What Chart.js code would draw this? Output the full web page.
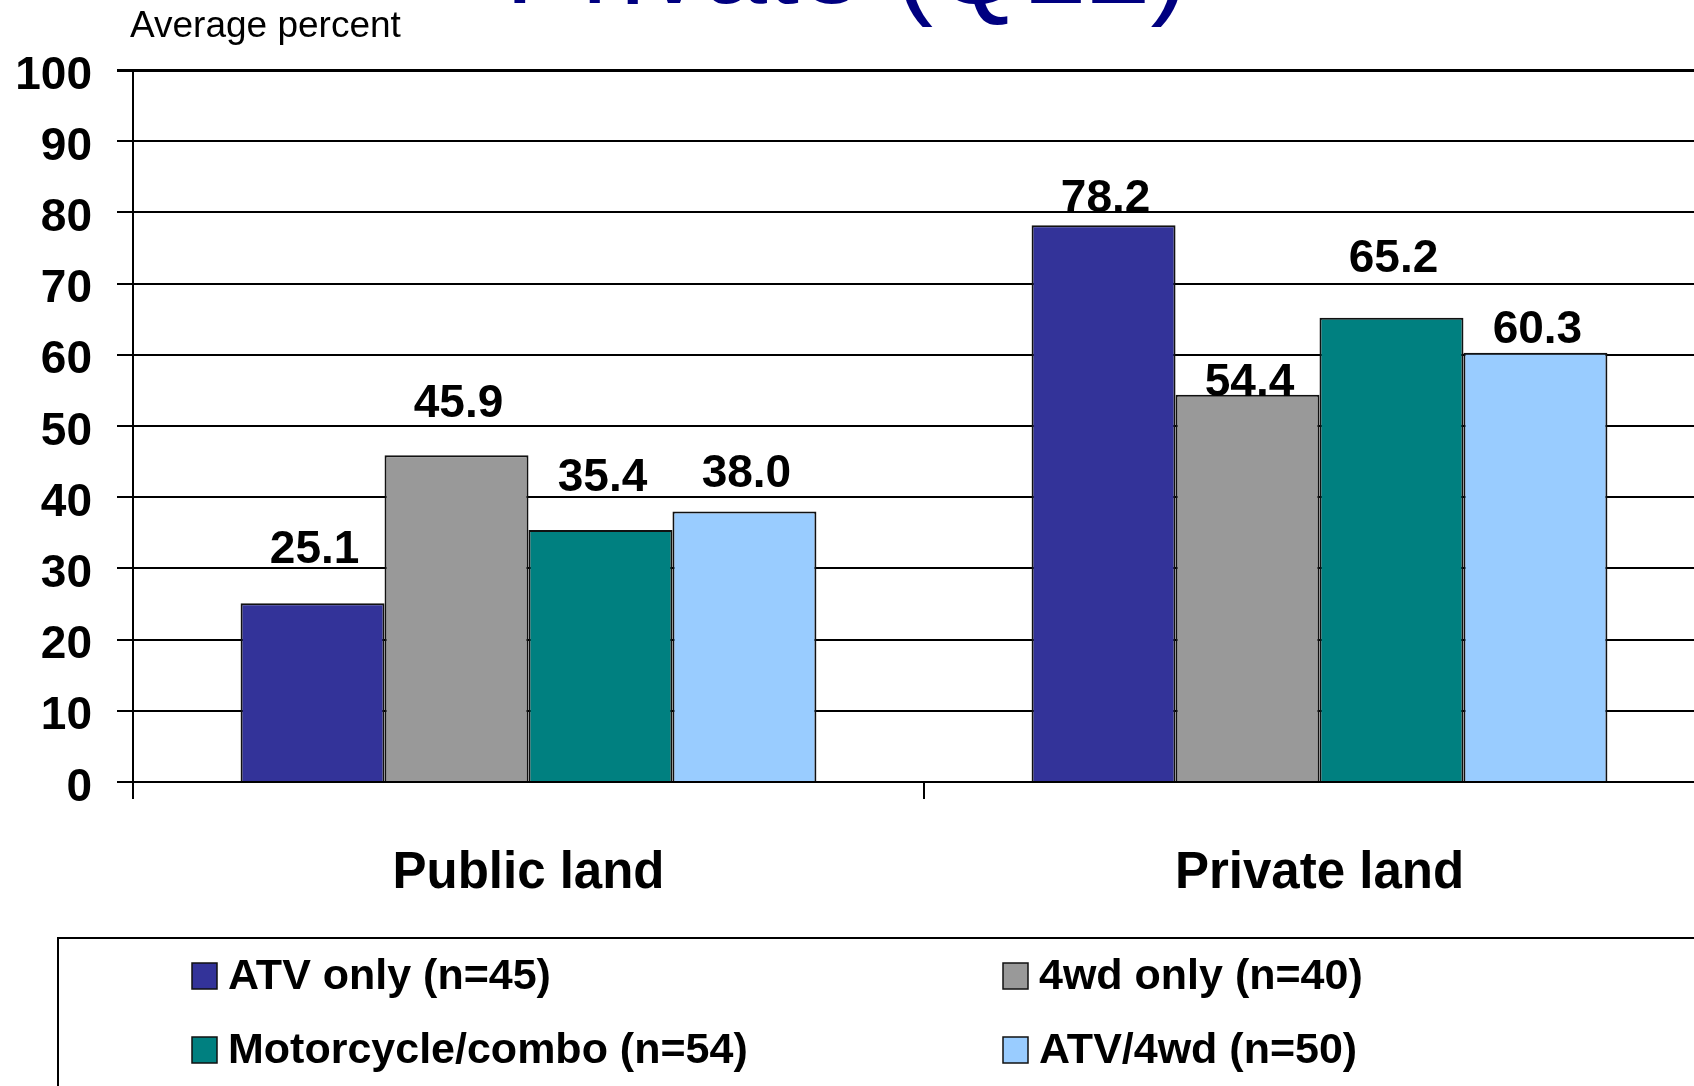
<!DOCTYPE html>
<html>
<head>
<meta charset="utf-8">
<script src="https://cdn.jsdelivr.net/npm/chart.js@4"></script>
<style>
  html, body { margin: 0; padding: 0; background: #fff; overflow: hidden; }
  #wrap { width: 1720px; height: 1086px; }
</style>
</head>
<body>
<div id="wrap"><canvas id="land-canvas" width="1720" height="1086"></canvas></div>
<script>
const categories = ['Public land', 'Private land'];
const seriesNames = ['ATV only (n=45)', '4wd only (n=40)', 'Motorcycle/combo (n=54)', 'ATV/4wd (n=50)'];
const atvOnly = [25.1, 78.2];
const fourWdOnly = [45.9, 54.4];
const motorcycleCombo = [35.4, 65.2];
const atvFourWd = [38.0, 60.3];
const yMin = 0, yMax = 100, yStep = 10;

const colors = ['#333399', '#999999', '#008080', '#99CCFF'];
// how far each value label sits above its bar (px), as placed in the original
const labelLift = [[57, 30], [55, 15], [55, 62], [41, 26]];
const FONT = "'Liberation Sans', Arial, Helvetica, sans-serif";

const series = [atvOnly, fourWdOnly, motorcycleCombo, atvFourWd];

const textPlugin = {
  id: 'texts',
  afterDatasetsDraw(chart){
    const ctx = chart.ctx;
    ctx.save();
    ctx.fillStyle = '#000';
    ctx.font = `bold 46px ${FONT}`;
    ctx.textAlign = 'center';
    ctx.textBaseline = 'alphabetic';
    chart.data.datasets.forEach((ds, i) => {
      chart.getDatasetMeta(i).data.forEach((bar, j) => {
        const y = bar.y - labelLift[i][j] + 16.5;
        ctx.fillText(ds.data[j].toFixed(1), bar.x + 2, y);
      });
    });
    ctx.restore();
  },
  afterDraw(chart){
    const ctx = chart.ctx;
    ctx.save();
    // title, mostly cut off at the top of the picture
    ctx.fillStyle = '#000080';
    ctx.font = `115px ${FONT}`;
    ctx.textAlign = 'left';
    ctx.textBaseline = 'alphabetic';
    ctx.fillText('Private (Q12)', 505, 3);
    // axis caption
    ctx.fillStyle = '#000';
    ctx.font = `37px ${FONT}`;
    ctx.fillText('Average percent', 130, 37);
    // legend box
    ctx.strokeStyle = '#000';
    ctx.lineWidth = 2;
    ctx.strokeRect(58, 938, 1800, 300);
    const colX = [192, 1003];
    const rowY = [989, 1063];
    ctx.font = `bold 43px ${FONT}`;
    chart.data.datasets.forEach((ds, i) => {
      const x = colX[i % 2];
      const y = rowY[Math.floor(i / 2)];
      ctx.fillStyle = ds.backgroundColor;
      ctx.fillRect(x, y - 26, 25, 26);
      ctx.lineWidth = 1.5;
      ctx.strokeStyle = '#111';
      ctx.strokeRect(x, y - 26, 25, 26);
      ctx.fillStyle = '#000';
      ctx.fillText(ds.label, x + 36, y);
    });
    ctx.restore();
  }
};

const ctx = document.getElementById('land-canvas');
const myChart = new Chart(ctx, {
  type: 'bar',
  plugins: [textPlugin],
  data: {
    labels: categories,
    datasets: series.map((vals, i) => ({
      label: seriesNames[i],
      data: vals,
      backgroundColor: colors[i],
      borderColor: '#111',
      borderWidth: 2,
      categoryPercentage: 0.728,
      barPercentage: 1.0
    }))
  },
  options: {
    animation: false,
    responsive: false,
    events: [],
    plugins: {
      legend: { display: false },
      title: { display: false },
      tooltip: { enabled: false }
    },
    layout: {
      padding: { top: 70, right: 5, left: 0, bottom: 0 }
    },
    scales: {
      x: {
        afterFit: (s) => { s.height = 304; },
        grid: {
          display: true,
          drawOnChartArea: false,
          offset: true,
          tickLength: 17,
          color: '#000',
          lineWidth: 2
        },
        border: { display: true, color: '#000', width: 2 },
        ticks: {
          color: '#000',
          font: { family: FONT, size: 51, weight: 'bold' },
          padding: 44,
          maxRotation: 0,
          autoSkip: false
        }
      },
      y: {
        min: yMin,
        max: yMax,
        afterFit: (s) => { s.width = 133; },
        grid: {
          color: '#000',
          lineWidth: (c) => (c.tick && c.tick.value === yMax) ? 3 : 2,
          tickLength: 16
        },
        border: { display: true, color: '#000', width: 2 },
        ticks: {
          stepSize: yStep,
          color: '#000',
          font: { family: FONT, size: 46, weight: 'bold' },
          padding: 25,
          labelOffset: 6
        }
      }
    }
  }
});
</script>
</body>
</html>
